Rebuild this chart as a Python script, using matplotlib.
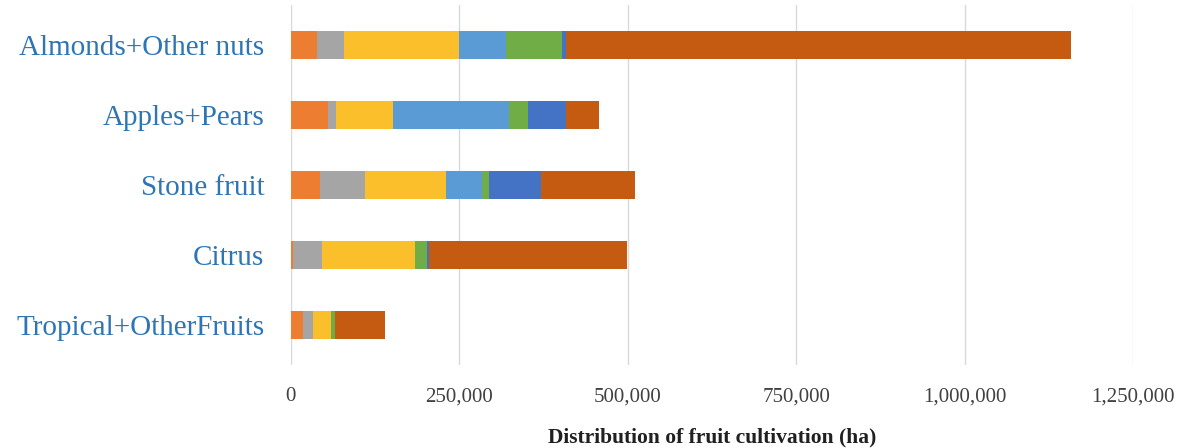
import matplotlib
matplotlib.use("Agg")
import matplotlib.pyplot as plt
import numpy as np
from matplotlib.ticker import FuncFormatter

categories = ["Almonds+Other nuts", "Apples+Pears", "Stone fruit", "Citrus", "Tropical+OtherFruits"]
s1_orange = [40000, 55000, 43000, 3000, 19000]
s2_gray = [40000, 13000, 68000, 43000, 14000]
s3_yellow = [170000, 84000, 119000, 138000, 27000]
s4_lightblue = [69500, 172500, 54000, 0, 0]
s5_green = [83000, 27500, 11000, 18700, 6400]
s6_darkblue = [6000, 56000, 76000, 2000, 0]
s7_brown = [749000, 49000, 140000, 295000, 73000]
series = [s1_orange, s2_gray, s3_yellow, s4_lightblue, s5_green, s6_darkblue, s7_brown]
colors = ["#ED7D31", "#A5A5A5", "#FBBF2C", "#5B9BD5", "#70AD47", "#4472C4", "#C55A11"]
xticks = [0, 250000, 500000, 750000, 1000000, 1250000]

plt.rcParams['font.family'] = ['Liberation Serif', 'DejaVu Serif']
fig = plt.figure(figsize=(12.03, 4.48), dpi=100)
ax = fig.add_axes([0.2415, 0.185, 0.7005, 0.804])

y = np.arange(len(categories))
left = np.zeros(len(categories))
for vals, c in zip(series, colors):
    v = np.array(vals, dtype=float)
    ax.barh(y, v, left=left, height=0.4, color=c, zorder=3)
    left += v

ax.set_xlim(0, 1250000)
ax.set_ylim(4.57, -0.57)
ax.set_xticks(xticks)
ax.xaxis.set_major_formatter(FuncFormatter(lambda v, p: f"{int(v):,}"))
ax.set_yticks(y)
ax.set_yticklabels(categories, fontsize=21, color="#2E75B6")
ax.tick_params(axis='x', labelsize=15, colors="#404040", length=0, pad=16)
ax.tick_params(axis='y', length=0, pad=19)
ax.grid(axis='x', color="#D9D9D9", linewidth=1, zorder=0)
for s in ax.spines.values():
    s.set_visible(False)
ax.set_xlabel("Distribution of fruit cultivation (ha)", fontsize=15.5, fontweight='bold', color="#202020", labelpad=15)

fig.savefig("out.png", dpi=100)
